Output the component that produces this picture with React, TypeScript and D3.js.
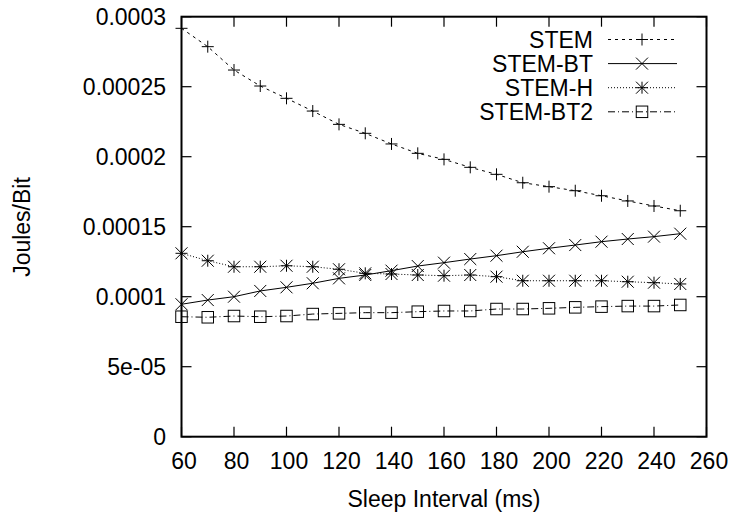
import React from "react";
import * as d3 from "d3";

const xValues = [60, 70, 80, 90, 100, 110, 120, 130, 140, 150, 160, 170, 180, 190, 200, 210, 220, 230, 240, 250];
const stem = [2.917e-4, 2.786e-4, 2.619e-4, 2.505e-4, 2.417e-4, 2.326e-4, 2.231e-4, 2.167e-4, 2.091e-4, 2.024e-4, 1.981e-4, 1.924e-4, 1.874e-4, 1.814e-4, 1.786e-4, 1.757e-4, 1.721e-4, 1.684e-4, 1.648e-4, 1.614e-4];
const stemBT = [9.46e-5, 9.76e-5, 1.0e-4, 1.041e-4, 1.067e-4, 1.096e-4, 1.131e-4, 1.155e-4, 1.186e-4, 1.219e-4, 1.243e-4, 1.269e-4, 1.293e-4, 1.321e-4, 1.346e-4, 1.369e-4, 1.393e-4, 1.412e-4, 1.429e-4, 1.45e-4];
const stemH = [1.31e-4, 1.257e-4, 1.214e-4, 1.214e-4, 1.221e-4, 1.214e-4, 1.196e-4, 1.167e-4, 1.162e-4, 1.155e-4, 1.15e-4, 1.155e-4, 1.143e-4, 1.114e-4, 1.114e-4, 1.114e-4, 1.114e-4, 1.107e-4, 1.1e-4, 1.091e-4];
const stemBT2 = [8.57e-5, 8.53e-5, 8.62e-5, 8.57e-5, 8.62e-5, 8.76e-5, 8.81e-5, 8.86e-5, 8.86e-5, 8.93e-5, 8.98e-5, 8.98e-5, 9.12e-5, 9.12e-5, 9.17e-5, 9.24e-5, 9.29e-5, 9.33e-5, 9.33e-5, 9.41e-5];

const seriesNames = ["STEM", "STEM-BT", "STEM-H", "STEM-BT2"];
const xTicks = [60, 80, 100, 120, 140, 160, 180, 200, 220, 240, 260];
const yTicks = [0, 5e-5, 1e-4, 1.5e-4, 2e-4, 2.5e-4, 3e-4];
const yTickLabels = ["0", "5e-05", "0.0001", "0.00015", "0.0002", "0.00025", "0.0003"];

const W = 731, H = 516;
const L = 181.5, R = 706.5, T = 16.7, B = 436.7;
const FONT = "'Liberation Sans', Arial, Helvetica, sans-serif";
const FS = 23;

type Kind = "plus" | "x" | "star" | "square";
const styles: { dash: string; kind: Kind }[] = [
  { dash: "3,4", kind: "plus" },
  { dash: "none", kind: "x" },
  { dash: "1,2", kind: "star" },
  { dash: "7,3,1,3", kind: "square" },
];

function Marker({ kind, x, y }: { kind: Kind; x: number; y: number }) {
  const s = 6;
  const common = { stroke: "#000", strokeWidth: 1, fill: "none" } as const;
  if (kind === "plus")
    return <path d={`M${x - s},${y}H${x + s}M${x},${y - s}V${y + s}`} {...common} />;
  if (kind === "x")
    return <path d={`M${x - s},${y - s}L${x + s},${y + s}M${x - s},${y + s}L${x + s},${y - s}`} {...common} />;
  if (kind === "star")
    return (
      <path
        d={`M${x - s},${y}H${x + s}M${x},${y - s}V${y + s}M${x - s},${y - s}L${x + s},${y + s}M${x - s},${y + s}L${x + s},${y - s}`}
        {...common}
      />
    );
  return <rect x={x - 5.75} y={y - 5.75} width={11.5} height={11.5} {...common} />;
}

export default function App() {
  const x = d3.scaleLinear().domain([60, 260]).range([L, R]);
  const y = d3.scaleLinear().domain([0, 3e-4]).range([B, T]);
  const data = [stem, stemBT, stemH, stemBT2];
  const line = d3
    .line<number>()
    .x((_, i) => x(xValues[i]))
    .y((d) => y(d));
  const tick = 10;
  return (
    <svg width={W} height={H} style={{ position: "absolute", left: 0, top: 0, background: "#fff" }}>
      <rect x={0} y={0} width={W} height={H} fill="#fff" />
      {xTicks.map((t) => (
        <g key={"xt" + t}>
          <line x1={x(t)} x2={x(t)} y1={B} y2={B - tick} stroke="#000" strokeWidth={1.2} />
          <line x1={x(t)} x2={x(t)} y1={T} y2={T + tick} stroke="#000" strokeWidth={1.2} />
          <text x={x(t) + 2.5} y={469} textAnchor="middle" fontFamily={FONT} fontSize={FS}>
            {t}
          </text>
        </g>
      ))}
      {yTicks.map((t, i) => (
        <g key={"yt" + t}>
          <line x1={L} x2={L + tick} y1={y(t)} y2={y(t)} stroke="#000" strokeWidth={1.2} />
          <line x1={R} x2={R - tick} y1={y(t)} y2={y(t)} stroke="#000" strokeWidth={1.2} />
          <text x={166} y={y(t) + 8.3} textAnchor="end" fontFamily={FONT} fontSize={FS}>
            {yTickLabels[i]}
          </text>
        </g>
      ))}
      {data.map((vals, si) => (
        <g key={seriesNames[si]}>
          <path d={line(vals) || ""} fill="none" stroke="#000" strokeWidth={1} strokeDasharray={styles[si].dash} />
          {vals.map((v, i) => (
            <Marker key={i} kind={styles[si].kind} x={x(xValues[i])} y={y(v)} />
          ))}
        </g>
      ))}
      <rect x={L} y={T} width={R - L} height={B - T} fill="none" stroke="#000" strokeWidth={2} />
      {seriesNames.map((n, i) => {
        const ly = 39.5 + i * 24.1;
        return (
          <g key={"lg" + n}>
            <text x={593} y={ly + 8.2} textAnchor="end" fontFamily={FONT} fontSize={FS}>
              {n}
            </text>
            <line x1={608} x2={677} y1={ly} y2={ly} stroke="#000" strokeWidth={1} strokeDasharray={styles[i].dash} />
            <Marker kind={styles[i].kind} x={642} y={ly} />
          </g>
        );
      })}
      <text x={444} y={507} textAnchor="middle" fontFamily={FONT} fontSize={FS}>
        Sleep Interval (ms)
      </text>
      <text transform={`translate(30,227) rotate(-90)`} textAnchor="middle" fontFamily={FONT} fontSize={FS}>
        Joules/Bit
      </text>
    </svg>
  );
}
